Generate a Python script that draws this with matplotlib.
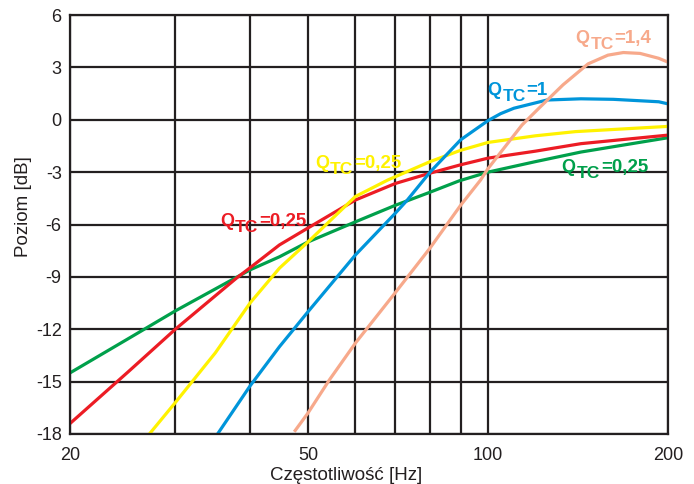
import matplotlib
matplotlib.use("Agg")
import matplotlib.pyplot as plt
from matplotlib.ticker import NullFormatter

plt.rcParams['font.family'] = ['Liberation Sans', 'DejaVu Sans']

# czestotliwosc [Hz] i poziom [dB]
green_f = [20, 25, 30, 40, 44.8, 50, 60, 70, 80, 89.5, 100, 120, 143, 200]
green_db = [-14.5, -12.55, -10.95, -8.6, -7.85, -7.0, -5.85, -4.9, -4.15, -3.5, -3.0, -2.4, -1.85, -1.03]

red_f = [20, 25, 30, 38, 40, 44.8, 50, 60, 70, 80, 90, 100, 120, 143, 200]
red_db = [-17.4, -14.45, -12.0, -9.06, -8.48, -7.17, -6.2, -4.6, -3.65, -3.06, -2.58, -2.2, -1.8, -1.37, -0.88]

yellow_f = [27, 30, 35, 40, 44.8, 50, 60, 68, 80, 90, 100, 120, 140, 200]
yellow_db = [-18.1, -16.2, -13.35, -10.5, -8.5, -7.0, -4.4, -3.45, -2.4, -1.75, -1.3, -0.92, -0.68, -0.38]

blue_f = [35.3, 40, 44.8, 50, 60, 70, 73.3, 80, 86.8, 90, 100, 105, 110.5, 125.5, 143, 162, 193, 200]
blue_db = [-18.0, -15.25, -13.0, -11.0, -7.75, -5.35, -4.6, -3.0, -1.72, -1.15, -0.05, 0.35, 0.66, 1.13, 1.2, 1.17, 1.03, 0.91]

salmon_f = [47.6, 50, 54.3, 60, 70, 80, 90, 97.2, 100, 114, 122, 133.5, 147, 158.7, 168.4, 179.6, 193, 200]
salmon_db = [-17.8, -16.8, -14.9, -12.8, -9.9, -7.35, -4.9, -3.45, -2.8, -0.3, 0.7, 2.0, 3.2, 3.7, 3.85, 3.8, 3.52, 3.3]

x_ticks = [20, 50, 100, 200]
x_minor = [30, 40, 60, 70, 80, 90]
y_ticks = [-18, -15, -12, -9, -6, -3, 0, 3, 6]

GREEN = '#00a04b'
RED = '#ec1c24'
YELLOW = '#fff200'
BLUE = '#0095da'
SALMON = '#f7a98b'
INK = '#231f20'

fig = plt.figure(figsize=(6.94, 4.84), dpi=100)
ax = fig.add_axes([70/694, 1-434/484, 598/694, 419/484])

ax.set_xscale('log')
ax.set_xlim(20, 200)
ax.set_ylim(-18, 6)
ax.set_xticks(x_ticks)
ax.set_xticklabels([str(v) for v in x_ticks])
ax.set_xticks(x_minor, minor=True)
ax.xaxis.set_minor_formatter(NullFormatter())
ax.set_yticks(y_ticks)
ax.set_yticklabels([str(v) for v in y_ticks])
ax.tick_params(which='both', length=0, labelsize=13, colors=INK)
ax.tick_params(axis='x', pad=9)
ax.tick_params(axis='y', pad=6)

ax.grid(True, which='both', color=INK, linewidth=1.6)
ax.set_axisbelow(True)
for s in ax.spines.values():
    s.set_color(INK)
    s.set_linewidth(1.6)

lw = 2.3
ax.plot(green_f, green_db, color=GREEN, lw=lw, solid_joinstyle='round')
ax.plot(red_f, red_db, color=RED, lw=lw, solid_joinstyle='round')
ax.plot(yellow_f, yellow_db, color=YELLOW, lw=lw, solid_joinstyle='round')
ax.plot(blue_f, blue_db, color=BLUE, lw=lw, solid_joinstyle='round')
ax.plot(salmon_f, salmon_db, color=SALMON, lw=lw, solid_joinstyle='round')

renderer = fig.canvas.get_renderer()


def q_label(x, y, rest, color):
    # "Q" + indeks "TC" + reszta, kladzione obok siebie
    kw = dict(color=color, fontweight='bold', ha='left', va='baseline',
              textcoords='offset pixels')
    t1 = ax.annotate('Q', (x, y), xytext=(0, 0), fontsize=13, **kw)
    w1 = t1.get_window_extent(renderer).width
    t2 = ax.annotate('TC', (x, y), xytext=(w1 + 1, -6), fontsize=12.5, **kw)
    w2 = t2.get_window_extent(renderer).width
    ax.annotate(rest, (x, y), xytext=(w1 + w2 + 2, 0), fontsize=13.5, **kw)


q_label(35.6, -6.06, '=0,25', RED)
q_label(51.4, -2.74, '=0,25', YELLOW)
q_label(132.8, -2.97, '=0,25', GREEN)
q_label(99.8, 1.42, '=1', BLUE)
q_label(140, 4.38, '=1,4', SALMON)

ax.set_xlabel('Częstotliwość [Hz]', fontsize=13.5, color=INK)
ax.xaxis.set_label_coords(0.4615, -0.079)
ax.set_ylabel('Poziom [dB]', fontsize=13.5, color=INK)
ax.yaxis.set_label_coords(-0.0635, 0.544)

fig.savefig('out.png', dpi=100)
